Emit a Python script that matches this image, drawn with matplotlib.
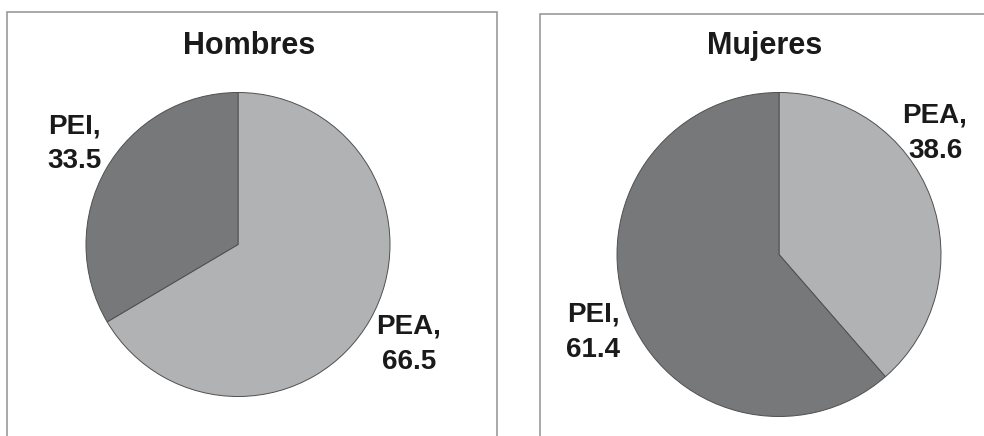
import matplotlib
matplotlib.use("Agg")
import matplotlib.pyplot as plt
from matplotlib.patches import Rectangle

plt.rcParams['font.family'] = ['Liberation Sans', 'DejaVu Sans']

# Population by activity status (%), by sex
panels = ["Hombres", "Mujeres"]
categories = ["PEA", "PEI"]
hombres = [66.5, 33.5]
mujeres = [38.6, 61.4]
values = [hombres, mujeres]

slice_colors = {"PEA": "#b1b2b4", "PEI": "#77787a"}

W, H = 984, 436
fig = plt.figure(figsize=(W / 100, H / 100), dpi=100)


def fx(px):
    return px / W


def fy(py):
    return 1 - py / H


# panel frames (pixel boxes: left, top, right, bottom)
frames = [(7, 12, 497, 445), (540, 14, 1000, 445)]
for l, t, r, b in frames:
    fig.patches.append(Rectangle((fx(l), fy(b)), fx(r - l), (b - t) / H,
                                 transform=fig.transFigure, fill=False,
                                 edgecolor="#9a9a9a", linewidth=1.2))

# pie centres and radii in pixels
pies = [(238, 244.5, 152), (779, 254.5, 162)]
title_pos = [(249.5, 46), (765, 46)]
# label anchor points (pixel centres) for each category
label_pos = [
    {"PEA": (409, 344), "PEI": (74, 144)},
    {"PEA": (935, 133), "PEI": (593, 332)},
]

for i, (cx, cy, rad) in enumerate(pies):
    ax = fig.add_axes([fx(cx - rad), fy(cy + rad), 2 * rad / W, 2 * rad / H])
    ax.pie(values[i], colors=[slice_colors[c] for c in categories],
           startangle=90, counterclock=False, radius=1,
           wedgeprops=dict(edgecolor="#505050", linewidth=0.7))
    ax.set_xlim(-1.0, 1.0)
    ax.set_ylim(-1.0, 1.0)
    ax.set_aspect("auto")
    ax.axis("off")

    tx, ty = title_pos[i]
    fig.text(fx(tx), fy(ty), panels[i], ha="center", va="center",
             fontsize=22, fontweight="bold", color="#1a1a1a")

    for cat, val in zip(categories, values[i]):
        lx, ly = label_pos[i][cat]
        fig.text(fx(lx), fy(ly), f"{cat},\n{val:.1f}", ha="center",
                 va="center", fontsize=20, fontweight="bold",
                 color="#1a1a1a", linespacing=1.45)

fig.savefig("out.png", dpi=100)
